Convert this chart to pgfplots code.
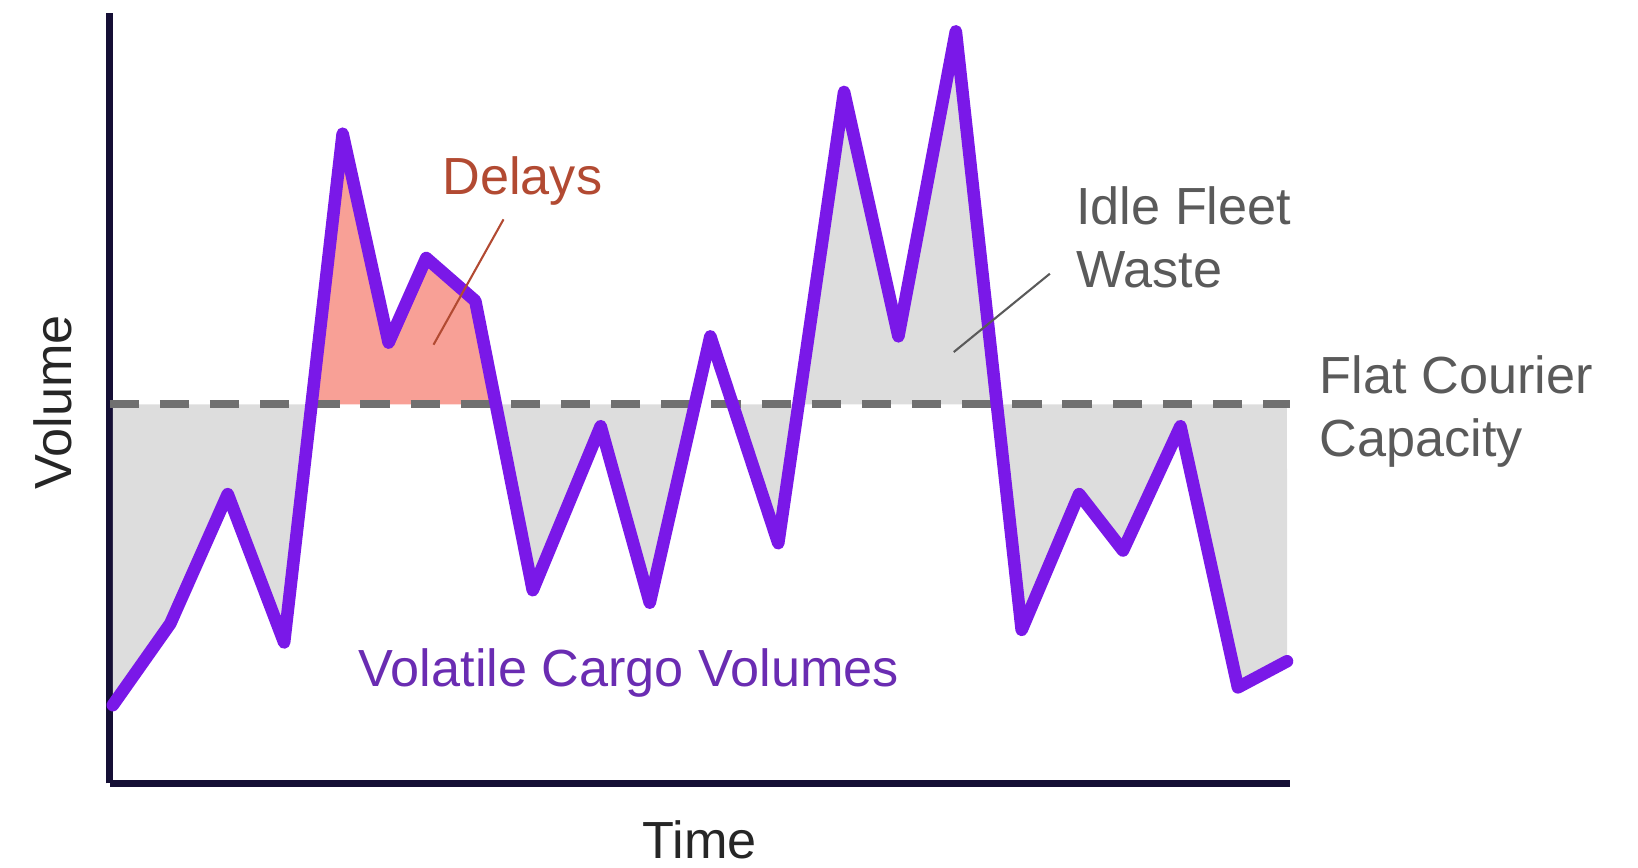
\documentclass[border=0pt]{standalone}
\usepackage{pgfplots}
\pgfplotsset{compat=1.18}
\usepgfplotslibrary{fillbetween}
\usepackage{fontspec}
\setmainfont{Liberation Sans}
\definecolor{volpurple}{RGB}{122,24,232}
\definecolor{voltext}{RGB}{106,44,178}
\definecolor{axisnavy}{RGB}{21,15,53}
\definecolor{capgray}{RGB}{112,112,112}
\definecolor{wastegray}{RGB}{221,221,221}
\definecolor{delayred}{RGB}{248,160,150}
\definecolor{delaytext}{RGB}{178,74,50}
\definecolor{notegray}{RGB}{90,90,90}
\begin{document}
\begin{tikzpicture}
\begin{axis}[
    at={(0,0)}, anchor=south west,
    scale only axis,
    width=565pt, height=369pt,
    xmin=0, xmax=1130,
    ymin=0, ymax=738,
    axis lines=left,
    axis line style={-, line width=3.5pt, color=axisnavy},
    xtick=\empty, ytick=\empty,
    clip=false,
]
% paths for the fills
\addplot[draw=none, name path=vol] coordinates {
(3,75) (58,153) (113,277) (167,135) (223,622) (267,422) (303,503)
(350,462) (405,185) (470,342) (517,173) (575,428) (640,230) (703,662)
(755,428) (810,720) (873,147) (928,277) (970,223) (1025,342) (1080,92)
(1127,117)
};
\addplot[draw=none, name path=cap] coordinates {(0,363) (1130,363)};

\addplot[fill=wastegray, draw=none] fill between[of=vol and cap, soft clip={domain=3:193.2}];
\addplot[fill=delayred, draw=none] fill between[of=vol and cap, soft clip={domain=193.2:369.6}];
\addplot[fill=wastegray, draw=none] fill between[of=vol and cap, soft clip={domain=369.6:560.2}];
\addplot[fill=wastegray, draw=none] fill between[of=vol and cap, soft clip={domain=596.3:1127}];

% capacity
\addplot[capgray, line width=4pt, dash pattern=on 14pt off 10pt] coordinates {(0,363) (1130,363)};

% cargo volumes
\addplot[volpurple, line width=6pt, line join=round, line cap=round] coordinates {
(3,75) (58,153) (113,277) (167,135) (223,622) (267,422) (303,503)
(350,462) (405,185) (470,342) (517,173) (575,428) (640,230) (703,662)
(755,428) (810,720) (873,147) (928,277) (970,223) (1025,342) (1080,92)
(1127,117)
};

% annotations
\draw[delaytext, line width=1pt] (axis cs:377,540) -- (axis cs:310,420);
\draw[notegray, line width=1pt] (axis cs:900,488) -- (axis cs:808,413);
\node[delaytext, anchor=base, inner sep=0, font=\fontsize{25}{30}\selectfont] at (axis cs:395,564) {Delays};
\node[notegray, anchor=base west, inner sep=0, font=\fontsize{25}{30}\selectfont] at (axis cs:925,535) {Idle Fleet};
\node[notegray, anchor=base west, inner sep=0, font=\fontsize{25}{30}\selectfont] at (axis cs:925,475) {Waste};
\node[notegray, anchor=base west, inner sep=0, font=\fontsize{25}{30}\selectfont] at (axis cs:1158,373) {Flat Courier};
\node[notegray, anchor=base west, inner sep=0, font=\fontsize{25}{30}\selectfont] at (axis cs:1158,313) {Capacity};
\node[voltext, anchor=base, inner sep=0, font=\fontsize{25}{30}\selectfont] at (axis cs:497,93) {Volatile Cargo Volumes};
\node[black!85, anchor=base, inner sep=0, font=\fontsize{25}{30}\selectfont] at (axis cs:565,-72) {Time};
\node[black!85, anchor=base, rotate=90, inner sep=0, font=\fontsize{25}{30}\selectfont] at (axis cs:-37,365) {Volume};
\end{axis}
\pgfresetboundingbox
\path (-52.5pt,-40pt) rectangle (731.5pt,375pt);
\end{tikzpicture}
\end{document}
